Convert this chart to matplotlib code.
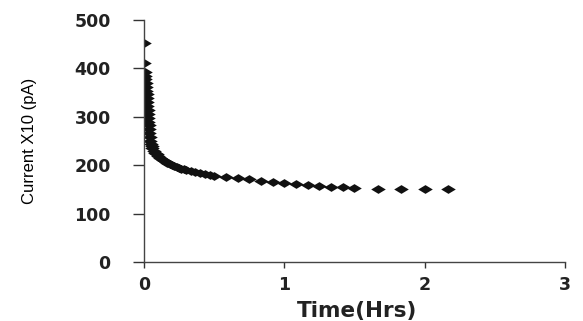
import matplotlib.pyplot as plt

# time (hours) and current x10 (pA)
time_hrs = [
    0.000, 0.003, 0.006, 0.008, 0.010, 0.012, 0.014, 0.016, 0.018, 0.020,
    0.022, 0.024, 0.026, 0.028, 0.030, 0.032, 0.034, 0.036, 0.038, 0.040,
    0.045, 0.050, 0.055, 0.060, 0.070, 0.080, 0.090, 0.100, 0.117, 0.133,
    0.150, 0.167, 0.183, 0.200, 0.217, 0.233, 0.250, 0.267, 0.283, 0.300,
    0.333, 0.367, 0.400, 0.433, 0.467, 0.500, 0.583, 0.667, 0.750, 0.833,
    0.917, 1.000, 1.083, 1.167, 1.250, 1.333, 1.417, 1.500, 1.667, 1.833,
    2.000, 2.167,
]
current = [
    452, 411, 392, 385, 378, 370, 362, 354, 346, 338,
    330, 322, 314, 306, 298, 290, 282, 274, 266, 258,
    250, 244, 239, 235, 230, 226, 222, 218, 214, 211,
    208, 205, 203, 201, 199, 197, 195, 193, 191, 190,
    188, 186, 184, 182, 180, 178, 175, 173, 171, 168,
    165, 163, 161, 159, 157, 155, 154, 152, 151, 151,
    151, 151,
]
x_ticks = [0, 1, 2, 3]
y_ticks = [0, 100, 200, 300, 400, 500]

fig = plt.figure(figsize=(5.83, 3.21), dpi=100)
ax = fig.add_axes([0.247, 0.184, 0.722, 0.754])

# wide, flat diamond like the scanned original
diamond = [(-1, 0), (0, 0.6), (1, 0), (0, -0.6), (-1, 0)]
ax.plot(time_hrs, current, linestyle="none", marker=diamond, markersize=10.5,
        color="#111111", markeredgewidth=0)

ax.set_xlim(0, 3)
ax.set_ylim(0, 500)
ax.set_xticks(x_ticks)
ax.set_yticks(y_ticks)
ax.tick_params(direction="out", width=1, colors="#333333")
ax.tick_params(axis="x", length=4, pad=6)
ax.tick_params(axis="y", length=8, pad=16)
for lab in ax.get_xticklabels() + ax.get_yticklabels():
    lab.set_family("DejaVu Sans")
    lab.set_fontweight("bold")
    lab.set_fontsize(12.5)
    lab.set_color("#222222")

for side in ("top", "right"):
    ax.spines[side].set_visible(False)
for side in ("left", "bottom"):
    ax.spines[side].set_color("#444444")
    ax.spines[side].set_linewidth(1)

ax.set_xlabel("Time(Hrs)", family="DejaVu Sans", fontweight="bold",
              fontsize=15.5, color="#222222")
ax.xaxis.set_label_coords(0.506, -0.16)
ax.set_ylabel("Current X10 (pA)",
              family=["Liberation Sans Narrow", "DejaVu Sans Condensed", "Liberation Sans"],
              fontsize=12, color="#000000")
ax.yaxis.set_label_coords(-0.255, 0.5)

fig.savefig("out.png", dpi=100)
